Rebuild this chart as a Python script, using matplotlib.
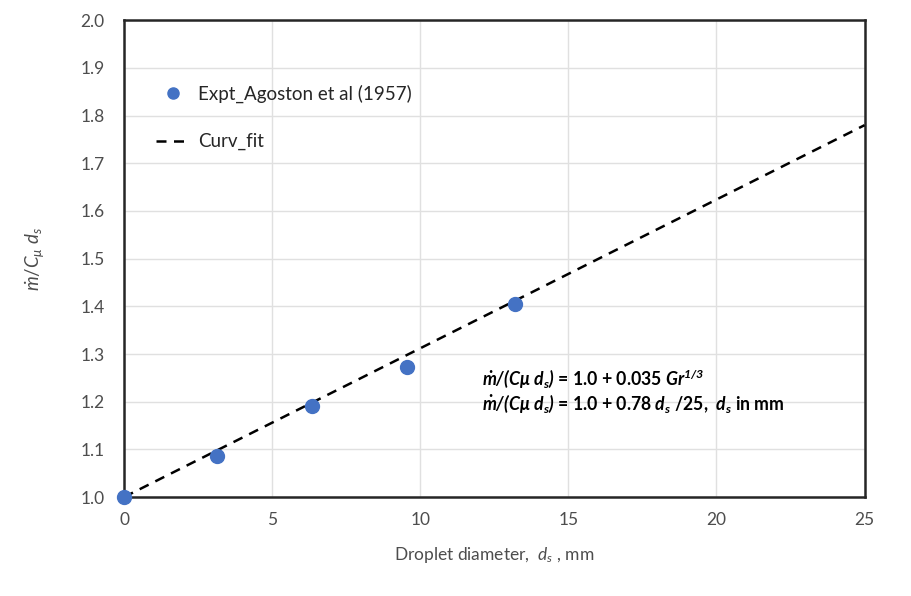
import matplotlib
matplotlib.use("Agg")
import matplotlib.pyplot as plt
import numpy as np

# measured points (Agoston et al 1957)
diam_mm = [0.0, 3.15, 6.33, 9.55, 13.2]
mdot_ratio = [1.0, 1.086, 1.19, 1.273, 1.405]
# curve fit: 1 + 0.78 d/25
fit_x = [0.0, 25.0]
fit_coef = 0.78
fit_scale = 25.0

xticks = [0, 5, 10, 15, 20, 25]
yticks = [1.0, 1.1, 1.2, 1.3, 1.4, 1.5, 1.6, 1.7, 1.8, 1.9, 2.0]

C_PT, C_GRID, C_TICK, C_FRAME = "#4472c4", "#e0e0e0", "#4d4d4d", "#262626"
FONT = "Lato"

plt.rcParams["font.family"] = [FONT, "DejaVu Sans"]
plt.rcParams["mathtext.fontset"] = "custom"
plt.rcParams["mathtext.rm"] = FONT
plt.rcParams["mathtext.it"] = f"{FONT}:italic"
plt.rcParams["mathtext.bf"] = f"{FONT}:bold"
plt.rcParams["mathtext.bfit"] = f"{FONT}:italic:bold"

fig = plt.figure(figsize=(9.12, 5.96), dpi=100)
ax = fig.add_axes([0.136, 0.166, 0.812, 0.800])

fx = np.array(fit_x)
ax.plot(fx, 1.0 + fit_coef * fx / fit_scale, color="black", ls=(0, (4, 3)), lw=1.8,
        label="Curv_fit", zorder=3)
ax.plot(diam_mm, mdot_ratio, ls="none", marker="o", ms=10, color=C_PT,
        label="Expt_Agoston et al (1957)", zorder=4, clip_on=False)

ax.set_xlim(0, 25); ax.set_ylim(1.0, 2.0)
ax.set_xticks(xticks); ax.set_yticks(yticks)
ax.set_xticklabels([str(t) for t in xticks])
ax.set_yticklabels([f"{t:.1f}" for t in yticks])
ax.tick_params(length=0, labelsize=12.5, colors=C_TICK)
ax.tick_params(axis="x", pad=11)
ax.tick_params(axis="y", pad=14)
ax.grid(True, color=C_GRID, lw=1.0); ax.set_axisbelow(True)
for sp in ax.spines.values():
    sp.set_color(C_FRAME); sp.set_linewidth(1.8)

ax.set_xlabel(r"Droplet diameter,  $d_s$ , mm", fontsize=12.5, color=C_TICK, labelpad=12)
ax.set_ylabel(r"$\dot{m}/C_{\mu}\ d_s$", fontsize=13.5, color=C_TICK, labelpad=24)

h, l = ax.get_legend_handles_labels()
leg = ax.legend(h[::-1], l[::-1], loc="upper left", bbox_to_anchor=(0.02, 0.9), frameon=False,
                fontsize=13.5, labelspacing=1.6, handlelength=1.8, handletextpad=0.45,
                labelcolor="#262626", markerscale=0.8)

ax.text(0.484, 0.247, r"$\mathbfit{\dot{m}/(C\mu\ d_s)}$ = 1.0 + 0.035 $\mathbfit{Gr^{1/3}}$",
        transform=ax.transAxes, fontsize=12.7, fontweight="bold", color="black", va="center")
ax.text(0.484, 0.197, r"$\mathbfit{\dot{m}/(C\mu\ d_s)}$ = 1.0 + 0.78 $\mathbfit{d_s}$ /25,  $\mathbfit{d_s}$ in mm",
        transform=ax.transAxes, fontsize=12.7, fontweight="bold", color="black", va="center")

fig.savefig("out.png", dpi=100)
